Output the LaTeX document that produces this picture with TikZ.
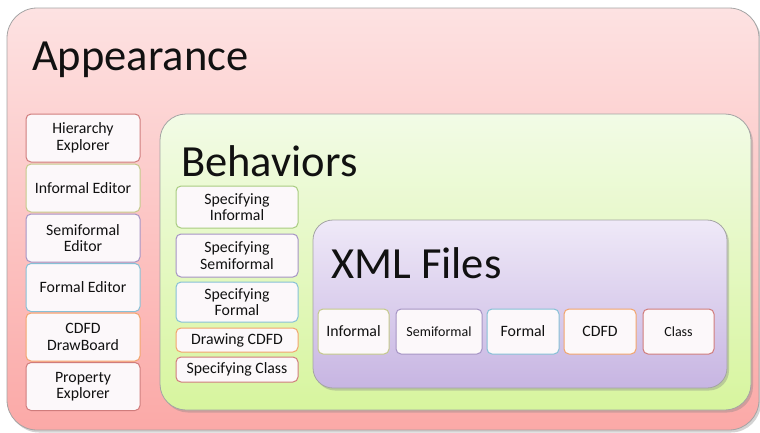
\documentclass[tikz,border=0pt]{standalone}
\usepackage{fontspec}
\setmainfont{Carlito}
\usetikzlibrary{shadows}

% panel shades
\definecolor{appTop}{HTML}{FDE2E2}
\definecolor{appBot}{HTML}{FBA9A7}
\definecolor{behTop}{HTML}{F2FBE6}
\definecolor{behBot}{HTML}{D7F59E}
\definecolor{xmlTop}{HTML}{EFE9F8}
\definecolor{xmlBot}{HTML}{C7B5E2}
\definecolor{panelEdge}{HTML}{A4A4A4}
\definecolor{ink}{HTML}{111111}
% item outlines
\definecolor{cRed}{HTML}{D07C7C}
\definecolor{cOlive}{HTML}{C4C98A}
\definecolor{cGreen}{HTML}{A8CC80}
\definecolor{cPurple}{HTML}{A594C4}
\definecolor{cBlue}{HTML}{86C0D6}
\definecolor{cOrange}{HTML}{F2A46C}
\definecolor{itemFill}{HTML}{FCF8FA}

\tikzset{
  panel/.style={draw=panelEdge, line width=0.8pt, rounded corners=#1,
    drop shadow={shadow xshift=2pt, shadow yshift=-2.5pt, opacity=0.35}},
  paneltitle/.style={anchor=base west, inner sep=0pt, text=ink,
    font=\fontsize{44.5}{46}\selectfont},
  item/.style={draw=#1, line width=1pt, fill=itemFill, rounded corners=5pt,
    align=center, inner sep=1pt, text=ink,
    font=\fontsize{15.8}{16.5}\selectfont},
  smallitem/.style={item=#1, font=\fontsize{14}{15}\selectfont},
}

\begin{document}
\begin{tikzpicture}[x=1pt,y=-1pt]
\useasboundingbox (0,0) rectangle (760,432);

% nested panels
\node[panel=30pt, top color=appTop, bottom color=appBot,
  minimum width=752pt, minimum height=422pt] (appearance) at (383,219) {};
\node[paneltitle] (appTitle) at (32,70) {Appearance};

\node[panel=26pt, top color=behTop, bottom color=behBot,
  minimum width=591pt, minimum height=296pt] (behaviors) at (455.5,262) {};
\node[paneltitle] (behTitle) at (181,176) {Behaviors};

\node[panel=20pt, top color=xmlTop, bottom color=xmlBot,
  minimum width=414pt, minimum height=168pt] (xml) at (520,304) {};
\node[paneltitle] (xmlTitle) at (331,278) {XML Files};

% appearance tools
\tikzset{every node/.append style={minimum width=114pt, minimum height=48pt}}
\node[item=cRed]    (hier)   at (83,138)   {Hierarchy\\Explorer};
\node[item=cOlive]  (infEd)  at (83,188)   {Informal Editor};
\node[item=cPurple] (semEd)  at (83,238)   {Semiformal\\Editor};
\node[item=cBlue]   (forEd)  at (83,287.5) {Formal Editor};
\node[item=cOrange] (cdfdDB) at (83,337)   {CDFD\\DrawBoard};
\node[item=cRed]    (prop)   at (83,386.5) {Property\\Explorer};

% behaviors
\tikzset{every node/.append style={minimum width=122pt}}
\node[item=cGreen,  minimum height=42pt] (specInf)  at (237,207)   {Specifying\\Informal};
\node[item=cPurple, minimum height=43pt] (specSem)  at (237,255.5) {Specifying\\Semiformal};
\node[item=cBlue,   minimum height=40pt] (specFor)  at (237,302)   {Specifying\\Formal};
\node[item=cOrange, minimum height=24pt] (drawCDFD) at (237,340)   {Drawing CDFD};
\node[item=cRed,    minimum height=25pt] (specCls)  at (237,369.5) {Specifying Class};

% xml files
\tikzset{every node/.append style={minimum height=45pt}}
\node[item=cOlive,       minimum width=71pt] (xInf)  at (353.5,331.5) {Informal};
\node[smallitem=cPurple, minimum width=86pt] (xSem)  at (439,331.5)   {Semiformal};
\node[item=cBlue,        minimum width=72pt] (xFor)  at (523,331.5)   {Formal};
\node[item=cOrange,      minimum width=72pt] (xCDFD) at (600,331.5)   {CDFD};
\node[smallitem=cRed,    minimum width=71pt] (xCls)  at (678.5,331.5) {Class};
\end{tikzpicture}
\end{document}
